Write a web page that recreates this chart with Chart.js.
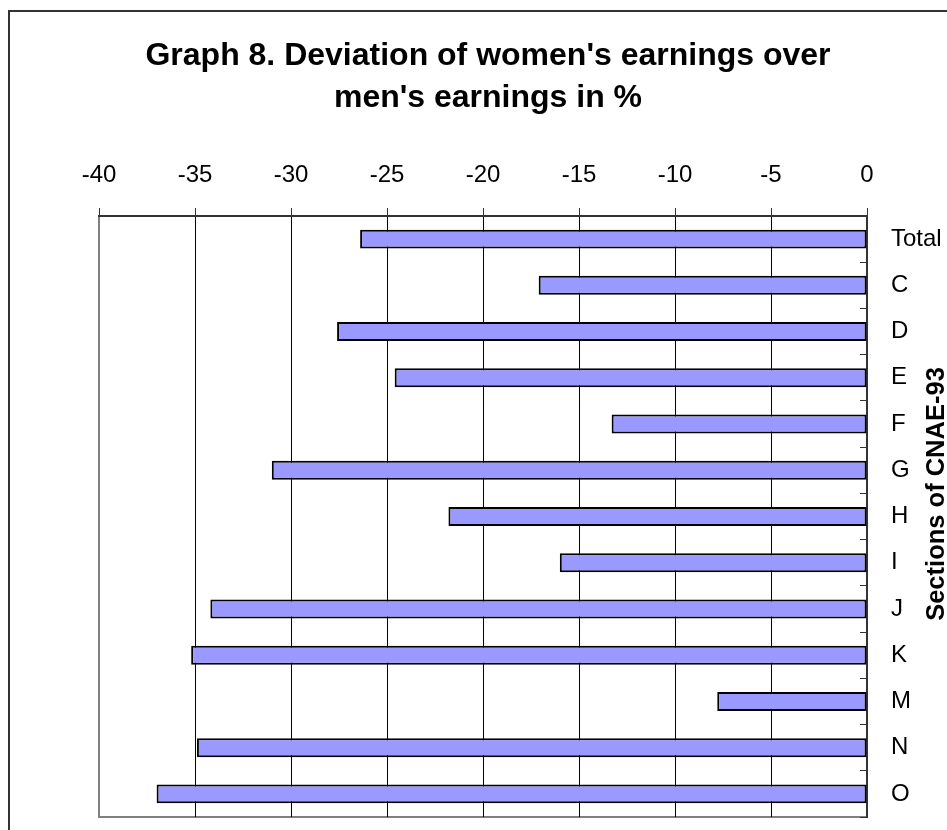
<!DOCTYPE html>
<html>
<head>
<meta charset="utf-8">
<script src="https://cdn.jsdelivr.net/npm/chart.js@4/dist/chart.umd.min.js"></script>
<style>
    body { margin: 0; background: #fff; }
    canvas { display: block; }
</style>
</head>
<body>
<canvas id="grafico" width="947" height="830"></canvas>
<script>
// datos
const secciones = ["Total", "C", "D", "E", "F", "G", "H", "I", "J", "K", "M", "N", "O"];
const desviacion = [-26.4, -17.1, -27.6, -24.6, -13.3, -31.0, -21.8, -16.0, -34.2, -35.2, -7.8, -34.9, -37.0];
const ticksX = [-40, -35, -30, -25, -20, -15, -10, -5, 0];
const titulo = ["Graph 8. Deviation of women's earnings over", "men's earnings in %"];
const tituloEje = "Sections of CNAE-93";

const fuente = "'Liberation Sans', Arial, sans-serif";
Chart.defaults.font.family = fuente;
Chart.defaults.color = "#000";

// fondo, marco exterior, borde gris del area y titulo vertical
const marco = {
    id: "marco",
    beforeDraw(chart) {
        const { ctx, chartArea: a } = chart;
        ctx.save();
        ctx.fillStyle = "#fff";
        ctx.fillRect(0, 0, chart.width, chart.height);
        ctx.strokeStyle = "#333";
        ctx.lineWidth = 2;
        ctx.beginPath();
        ctx.moveTo(9, chart.height + 5);
        ctx.lineTo(9, 11);
        ctx.lineTo(chart.width + 5, 11);
        ctx.stroke();
        ctx.strokeStyle = "#808080";
        ctx.lineWidth = 2;
        ctx.strokeRect(a.left, a.top, a.width, a.height);
        ctx.restore();
    },
    afterDraw(chart) {
        const ctx = chart.ctx;
        ctx.save();
        ctx.translate(chart.width - 10, 494);
        ctx.rotate(-Math.PI / 2);
        ctx.font = "bold 25.5px " + fuente;
        ctx.fillStyle = "#000";
        ctx.textAlign = "center";
        ctx.textBaseline = "middle";
        ctx.fillText(tituloEje, 0, 0);
        ctx.restore();
    }
};

new Chart(document.getElementById("grafico"), {
    type: "bar",
    data: {
        labels: secciones,
        datasets: [{
            label: "Deviation",
            data: desviacion,
            backgroundColor: "#9999FF",
            borderColor: "#000",
            borderWidth: 2,
            borderSkipped: false,
            barPercentage: 0.41,
            categoryPercentage: 1
        }]
    },
    options: {
        indexAxis: "y",
        responsive: false,
        animation: false,
        layout: { padding: { top: 0, left: 29, right: 0, bottom: 13 } },
        plugins: {
            legend: { display: false },
            tooltip: { enabled: false },
            title: {
                display: true,
                text: titulo,
                color: "#000",
                font: { size: 32, weight: "bold", lineHeight: 42 / 32 },
                padding: { top: 35, bottom: 0 }
            }
        },
        scales: {
            x: {
                type: "linear",
                position: "top",
                min: -40,
                max: 0,
                afterBuildTicks: s => { s.ticks = ticksX.map(v => ({ value: v })); },
                afterFit: s => { s.height = 97; s.paddingLeft = 0; s.paddingRight = 0; },
                ticks: { font: { size: 24 }, color: "#000", padding: 18, maxRotation: 0, autoSkip: false },
                grid: {
                    color: c => (c.tick && c.tick.value === -40 ? "#808080" : "#000"),
                    lineWidth: 1,
                    tickLength: 8,
                    tickColor: "#333"
                },
                border: { display: true, color: "#333", width: 2 }
            },
            y: {
                position: "right",
                afterFit: s => { s.width = 80; s.paddingTop = 0; s.paddingBottom = 0; },
                ticks: { font: { size: 24 }, color: "#000", padding: 31, autoSkip: false },
                grid: {
                    drawOnChartArea: false,
                    color: "#333",
                    lineWidth: 1,
                    tickLength: -7
                },
                border: { display: true, color: "#333", width: 2 }
            },
            // eje vacio a la izquierda, solo reserva margen
            margen: {
                type: "linear",
                position: "left",
                afterFit: s => { s.width = 70; s.paddingTop = 0; s.paddingBottom = 0; },
                ticks: { display: false },
                grid: { display: false },
                border: { display: false }
            }
        }
    },
    plugins: [marco]
});
</script>
</body>
</html>
